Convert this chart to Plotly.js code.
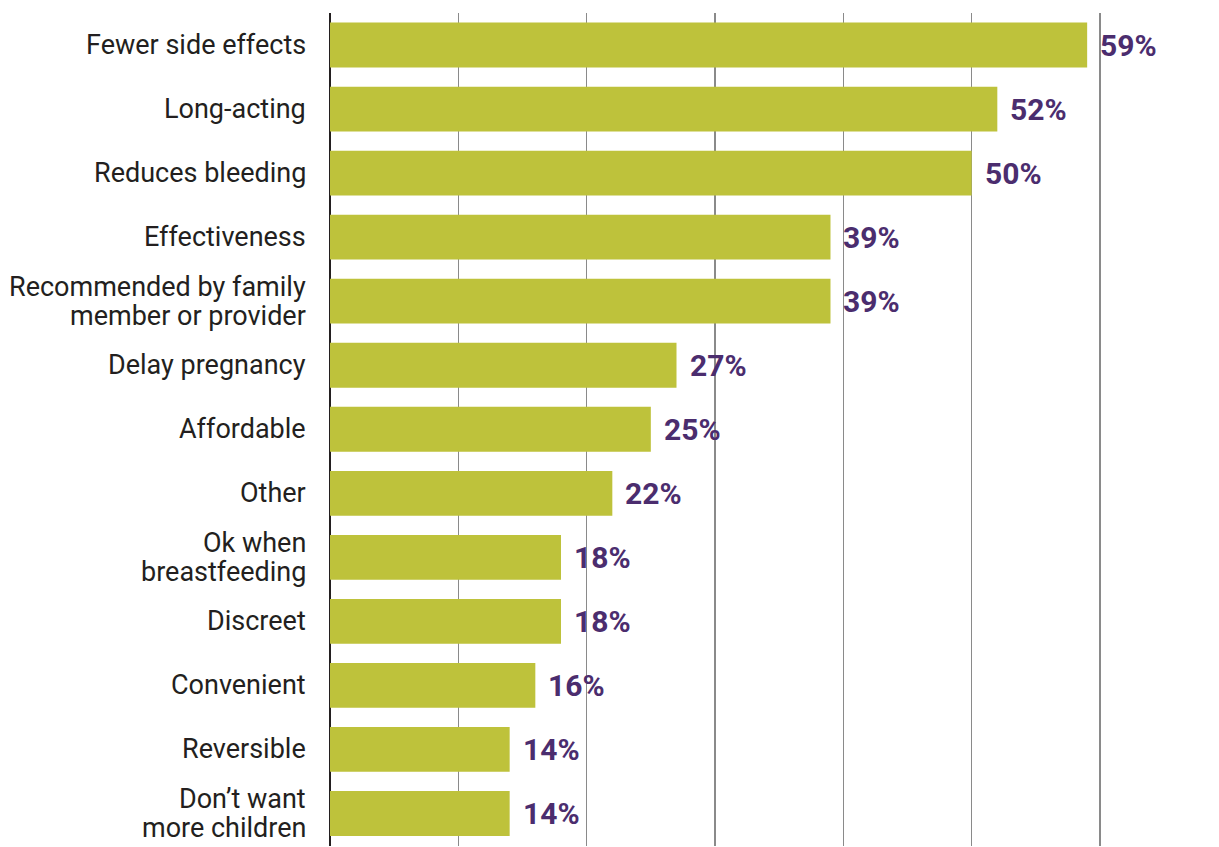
<!DOCTYPE html>
<html>
<head>
<meta charset="utf-8">
<script src="https://cdn.plot.ly/plotly-3.0.1.min.js"></script>
<style>html,body{margin:0;padding:0;background:#fff;}#chart{width:1219px;height:847px;}</style>
</head>
<body>
<div id="chart"></div>
<script>
const categories = [
  "Fewer side effects",
  "Long-acting",
  "Reduces bleeding",
  "Effectiveness",
  "Recommended by family<br>member or provider",
  "Delay pregnancy",
  "Affordable",
  "Other",
  "Ok when<br>breastfeeding",
  "Discreet",
  "Convenient",
  "Reversible",
  "Don\u2019t want<br>more children"
];
const values = [59, 52, 50, 39, 39, 27, 25, 22, 18, 18, 16, 14, 14];
const valueLabels = values.map(v => v + "%");

const barColor = "#bec23b";
const labelColor = "#4b2d6e";
const textColor = "#231f20";

const trace = {
  type: "bar",
  orientation: "h",
  x: values,
  y: categories,
  marker: {color: barColor},
  hoverinfo: "skip"
};

const valueAnnotations = values.map((v, i) => ({
  x: v,
  y: categories[i],
  xref: "x",
  yref: "y",
  text: valueLabels[i],
  showarrow: false,
  xanchor: "left",
  yanchor: "middle",
  xshift: 11,
  font: {family: "Roboto", size: 30, color: labelColor, weight: "bold"}
}));

// category labels, one annotation per line to control line spacing
const lineGap = 29;
const categoryAnnotations = [];
categories.forEach(cat => {
  const lines = cat.split("<br>");
  lines.forEach((line, j) => {
    categoryAnnotations.push({
      x: 0,
      y: cat,
      xref: "x",
      yref: "y",
      text: line,
      showarrow: false,
      xanchor: "right",
      yanchor: "middle",
      xshift: -22,
      yshift: ((lines.length - 1) / 2 - j) * lineGap,
      font: {family: "Roboto", size: 27, color: textColor}
    });
  });
});

const layout = {
  width: 1219,
  height: 847,
  margin: {l: 330, r: 109, t: 13, b: 1, pad: 0},
  paper_bgcolor: "#ffffff",
  plot_bgcolor: "#ffffff",
  showlegend: false,
  bargap: 0.3,
  font: {family: "Roboto", color: textColor},
  xaxis: {
    range: [0, 60.78],
    dtick: 10,
    tick0: 0,
    showgrid: true,
    gridcolor: "#8a8a8a",
    gridwidth: 1.5,
    showticklabels: false,
    ticks: "",
    zeroline: true,
    zerolinecolor: "#231f20",
    zerolinewidth: 2,
    showline: false,
    fixedrange: true
  },
  yaxis: {
    autorange: "reversed",
    showgrid: false,
    zeroline: false,
    showline: false,
    ticks: "",
    showticklabels: false,
    fixedrange: true
  },
  annotations: categoryAnnotations.concat(valueAnnotations)
};

Plotly.newPlot("chart", [trace], layout, {displayModeBar: false, staticPlot: true});
</script>
</body>
</html>
